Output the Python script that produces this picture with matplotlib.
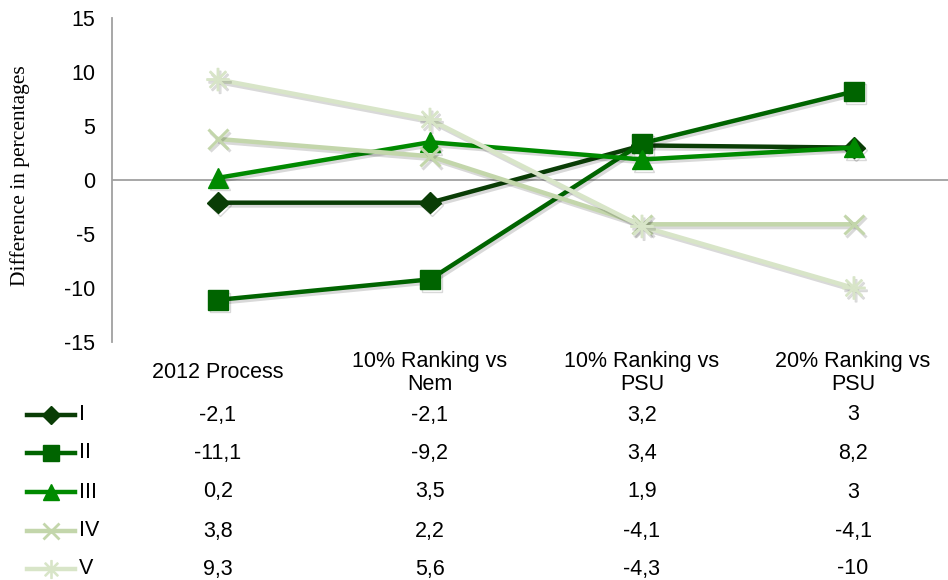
import matplotlib
matplotlib.use("Agg")
import matplotlib.pyplot as plt
import matplotlib.patheffects as pe
from matplotlib.lines import Line2D

categories = ["2012 Process", "10% Ranking vs\nNem", "10% Ranking vs\nPSU", "20% Ranking vs\nPSU"]
series_names = ["I", "II", "III", "IV", "V"]
s_I = [-2.1, -2.1, 3.2, 3.0]
s_II = [-11.1, -9.2, 3.4, 8.2]
s_III = [0.2, 3.5, 1.9, 3.0]
s_IV = [3.8, 2.2, -4.1, -4.1]
s_V = [9.3, 5.6, -4.3, -10.0]
yticks = [-15, -10, -5, 0, 5, 10, 15]

all_series = [s_I, s_II, s_III, s_IV, s_V]
colors = ["#0a3d06", "#006400", "#008a00", "#c3d6ab", "#d8e5c8"]
markers = ["D", "s", "^", "x", "$\u2733$"]
msizes = [11, 14, 14, 14, 16]

FS = 15.5
W, H = 948, 580
fig = plt.figure(figsize=(W / 100, H / 100), dpi=100)
ax = fig.add_axes([112 / W, 1 - 342 / H, 1 - 112 / W, (342 - 18) / H])

xs = [i + 0.5 for i in range(len(categories))]
shadow = [pe.SimpleLineShadow(offset=(1.5, -2), shadow_color="k", alpha=0.15), pe.Normal()]
for vals, c, m, ms in zip(all_series, colors, markers, msizes):
    kw = dict(color=c, lw=3.2, marker=m, markersize=ms, markerfacecolor=c,
              markeredgecolor=c, path_effects=shadow, zorder=3, clip_on=False)
    if m == "x":
        kw["markeredgewidth"] = 2.2
    ax.plot(xs, vals, **kw)

ax.axhline(0, color="#a0a0a0", lw=1.3, zorder=1)
ax.set_xlim(0, (948 - 112) / 212)
ax.set_ylim(-15, 15)
ax.set_yticks(yticks)
ax.set_yticklabels([str(t) for t in yticks], fontsize=FS, family="Liberation Sans")
ax.tick_params(axis="y", length=0, pad=12)
ax.set_xticks([])
for s in ["top", "right", "bottom"]:
    ax.spines[s].set_visible(False)
ax.spines["left"].set_color("#a0a0a0")
ax.spines["left"].set_linewidth(1.3)


def fmt(v):
    return f"{v:g}".replace(".", ",")


def fy(py):
    return 1 - py / H


def fx(px):
    return px / W


fig.text(fx(20), fy(176), "Difference in percentages", rotation=90, ha="center",
         va="center", family="Liberation Serif", fontsize=15.5)

cat_px = [218, 430, 642, 853]
for cx, cat in zip(cat_px, categories):
    fig.text(fx(cx), fy(373), cat, ha="center", va="center", fontsize=FS,
             family="Liberation Sans", linespacing=1.15)

row_py = [415, 453, 492, 531, 569]
for name, vals, c, m, ms, ry in zip(series_names, all_series, colors, markers, msizes, row_py):
    ln = Line2D([fx(27), fx(75)], [fy(ry), fy(ry)], transform=fig.transFigure,
                color=c, lw=3.2)
    fig.add_artist(ln)
    mk = Line2D([fx(51)], [fy(ry)], transform=fig.transFigure, color=c,
                marker=m, markersize=ms * 0.8, markerfacecolor=c, markeredgecolor=c,
                markeredgewidth=2 if m == "x" else 1, linestyle="none")
    fig.add_artist(mk)
    fig.text(fx(79), fy(ry), name, ha="left", va="center", fontsize=FS, family="Liberation Sans")
    for cx, v in zip(cat_px, vals):
        fig.text(fx(cx), fy(ry), fmt(v), ha="center", va="center", fontsize=FS,
                 family="Liberation Sans")

fig.savefig("out.png", dpi=100)
